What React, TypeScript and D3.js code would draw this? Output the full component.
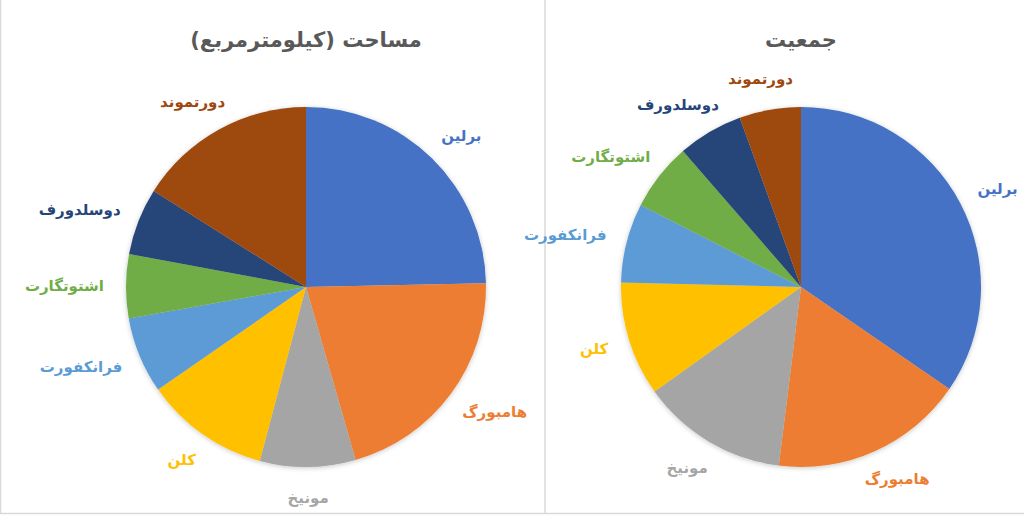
import { useEffect, useRef } from 'react';
import * as d3 from 'd3';

// city names (Persian), in slice order clockwise from 12 o'clock
const cities = ['برلین', 'هامبورگ', 'مونیخ', 'کلن', 'فرانکفورت', 'اشتوتگارت', 'دوسلدورف', 'دورتموند'];
const colors = ['#4472C4', '#ED7D31', '#A5A5A5', '#FFC000', '#5B9BD5', '#70AD47', '#264478', '#9E480E'];

// area in km²
const areaValues = [891, 755, 310, 405, 248, 207, 217, 580];
// population in thousands
const populationValues = [3600, 1810, 1370, 1070, 740, 635, 610, 575];

const titles = ['مساحت (کیلومترمربع)', 'جمعیت'];

const W = 1024;
const H = 515;
const R = 180;
const FONT = '"DejaVu Sans", sans-serif';

const App = () => {
  const ref = useRef<SVGSVGElement>(null);

  useEffect(() => {
    const svg = d3.select(ref.current);
    svg.selectAll('*').remove();

    const defs = svg.append('defs');
    const f = defs.append('filter').attr('id', 'shadow').attr('x', '-20%').attr('y', '-20%').attr('width', '140%').attr('height', '140%');
    f.append('feDropShadow').attr('dx', 0).attr('dy', 1).attr('stdDeviation', 2.5).attr('flood-color', '#000').attr('flood-opacity', 0.22);

    svg.append('rect').attr('width', W).attr('height', H).attr('fill', '#fff');

    // panel borders
    const border = svg.append('g').attr('stroke', '#d9d9d9').attr('stroke-width', 1.5);
    border.append('line').attr('x1', 0.5).attr('x2', 0.5).attr('y1', 0).attr('y2', 513);
    border.append('line').attr('x1', 545).attr('x2', 545).attr('y1', 0).attr('y2', 513);
    border.append('line').attr('x1', 0).attr('x2', W).attr('y1', 513.5).attr('y2', 513.5);

    const charts = [
      { cx: 306, cy: 287, values: areaValues, title: titles[0] },
      { cx: 801, cy: 287, values: populationValues, title: titles[1] },
    ];

    const pie = d3.pie<number>().sort(null).value((d) => d);
    const arc = d3.arc<d3.PieArcDatum<number>>().innerRadius(0).outerRadius(R);

    charts.forEach((c) => {
      const g = svg.append('g').attr('transform', `translate(${c.cx},${c.cy})`);
      const arcs = pie(c.values);

      g.append('g')
        .attr('filter', 'url(#shadow)')
        .selectAll('path')
        .data(arcs)
        .join('path')
        .attr('d', arc)
        .attr('fill', (_, i) => colors[i]);

      // outside-end labels
      arcs.forEach((a, i) => {
        const mid = (a.startAngle + a.endAngle) / 2;
        const s = Math.sin(mid);
        const co = Math.cos(mid);
        const t = g
          .append('text')
          .attr('direction', 'rtl')
          .attr('text-anchor', 'middle')
          .attr('dominant-baseline', 'central')
          .attr('font-family', FONT)
          .attr('font-weight', 'bold')
          .attr('font-size', 15)
          .attr('fill', colors[i])
          .text(cities[i]);
        const bb = (t.node() as SVGTextElement).getBBox();
        const px = (R + 22) * s + (s * bb.width) / 2;
        const py = -(R + 22) * co - (co * bb.height) / 2;
        t.attr('x', px).attr('y', py);
      });

      svg
        .append('text')
        .attr('x', c.cx)
        .attr('y', 40)
        .attr('direction', 'rtl')
        .attr('text-anchor', 'middle')
        .attr('dominant-baseline', 'central')
        .attr('font-family', FONT)
        .attr('font-weight', 'bold')
        .attr('font-size', 21)
        .attr('fill', '#595959')
        .text(c.title);
    });
  }, []);

  return <svg ref={ref} width={W} height={H} style={{ position: 'absolute', left: 0, top: 0 }} />;
};

export default App;
